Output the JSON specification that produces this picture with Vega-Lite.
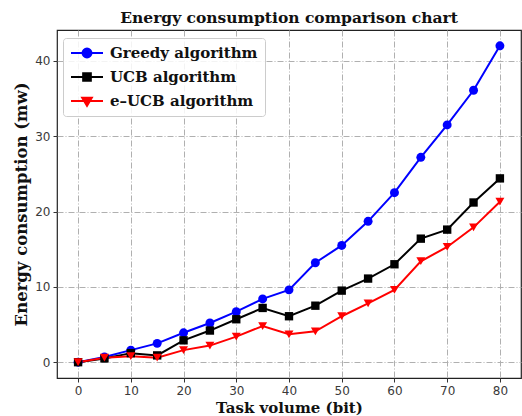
{
  "$schema": "https://vega.github.io/schema/vega-lite/v6.json",
  "width": 464,
  "height": 348,
  "autosize": {"type": "none"},
  "padding": {"left": 57, "top": 30, "right": 1, "bottom": 38},
  "background": "white",
  "config": {
    "view": {"stroke": "#222", "strokeWidth": 1.2},
    "axis": {
      "domain": false,
      "grid": true,
      "gridColor": "#b0b0b0",
      "gridDash": [6, 2, 1, 2],
      "gridWidth": 1,
      "labelFont": "DejaVu Sans",
      "labelFontSize": 12,
      "labelColor": "#3a3a3a",
      "tickColor": "#333",
      "tickSize": 4,
      "labelPadding": 3,
      "titleFont": "DejaVu Serif",
      "titleFontWeight": "bold",
      "titleFontSize": 15,
      "titleColor": "#111"
    }
  },
  "title": {
    "text": "Energy consumption comparison chart",
    "font": "DejaVu Serif",
    "fontWeight": "bold",
    "fontSize": 15.5,
    "color": "#111",
    "anchor": "middle",
    "offset": 4
  },
  "data": {
    "values": [
      {"x": 0, "y": 0, "series": "Greedy algorithm"},
      {"x": 5, "y": 0.7, "series": "Greedy algorithm"},
      {"x": 10, "y": 1.6, "series": "Greedy algorithm"},
      {"x": 15, "y": 2.5, "series": "Greedy algorithm"},
      {"x": 20, "y": 3.9, "series": "Greedy algorithm"},
      {"x": 25, "y": 5.2, "series": "Greedy algorithm"},
      {"x": 30, "y": 6.7, "series": "Greedy algorithm"},
      {"x": 35, "y": 8.4, "series": "Greedy algorithm"},
      {"x": 40, "y": 9.6, "series": "Greedy algorithm"},
      {"x": 45, "y": 13.2, "series": "Greedy algorithm"},
      {"x": 50, "y": 15.5, "series": "Greedy algorithm"},
      {"x": 55, "y": 18.7, "series": "Greedy algorithm"},
      {"x": 60, "y": 22.5, "series": "Greedy algorithm"},
      {"x": 65, "y": 27.2, "series": "Greedy algorithm"},
      {"x": 70, "y": 31.5, "series": "Greedy algorithm"},
      {"x": 75, "y": 36.1, "series": "Greedy algorithm"},
      {"x": 80, "y": 42.0, "series": "Greedy algorithm"},
      {"x": 0, "y": 0, "series": "UCB algorithm"},
      {"x": 5, "y": 0.5, "series": "UCB algorithm"},
      {"x": 10, "y": 1.2, "series": "UCB algorithm"},
      {"x": 15, "y": 0.9, "series": "UCB algorithm"},
      {"x": 20, "y": 2.9, "series": "UCB algorithm"},
      {"x": 25, "y": 4.2, "series": "UCB algorithm"},
      {"x": 30, "y": 5.7, "series": "UCB algorithm"},
      {"x": 35, "y": 7.2, "series": "UCB algorithm"},
      {"x": 40, "y": 6.1, "series": "UCB algorithm"},
      {"x": 45, "y": 7.5, "series": "UCB algorithm"},
      {"x": 50, "y": 9.5, "series": "UCB algorithm"},
      {"x": 55, "y": 11.1, "series": "UCB algorithm"},
      {"x": 60, "y": 13.0, "series": "UCB algorithm"},
      {"x": 65, "y": 16.4, "series": "UCB algorithm"},
      {"x": 70, "y": 17.6, "series": "UCB algorithm"},
      {"x": 75, "y": 21.2, "series": "UCB algorithm"},
      {"x": 80, "y": 24.4, "series": "UCB algorithm"},
      {"x": 0, "y": 0, "series": "e–UCB algorithm"},
      {"x": 5, "y": 0.6, "series": "e–UCB algorithm"},
      {"x": 10, "y": 0.8, "series": "e–UCB algorithm"},
      {"x": 15, "y": 0.6, "series": "e–UCB algorithm"},
      {"x": 20, "y": 1.6, "series": "e–UCB algorithm"},
      {"x": 25, "y": 2.2, "series": "e–UCB algorithm"},
      {"x": 30, "y": 3.4, "series": "e–UCB algorithm"},
      {"x": 35, "y": 4.8, "series": "e–UCB algorithm"},
      {"x": 40, "y": 3.7, "series": "e–UCB algorithm"},
      {"x": 45, "y": 4.1, "series": "e–UCB algorithm"},
      {"x": 50, "y": 6.1, "series": "e–UCB algorithm"},
      {"x": 55, "y": 7.8, "series": "e–UCB algorithm"},
      {"x": 60, "y": 9.6, "series": "e–UCB algorithm"},
      {"x": 65, "y": 13.4, "series": "e–UCB algorithm"},
      {"x": 70, "y": 15.3, "series": "e–UCB algorithm"},
      {"x": 75, "y": 17.9, "series": "e–UCB algorithm"},
      {"x": 80, "y": 21.3, "series": "e–UCB algorithm"}
    ]
  },
  "encoding": {
    "x": {
      "field": "x",
      "type": "quantitative",
      "scale": {"domain": [-4, 84], "nice": false, "zero": false},
      "axis": {"values": [0, 10, 20, 30, 40, 50, 60, 70, 80], "title": "Task volume (bit)", "titlePadding": 4}
    },
    "y": {
      "field": "y",
      "type": "quantitative",
      "scale": {"domain": [-2.1, 44.1], "nice": false, "zero": false},
      "axis": {"values": [0, 10, 20, 30, 40], "title": "Energy consumption (mw)", "titlePadding": 5, "titleFontSize": 16.5}
    },
    "color": {
      "field": "series",
      "type": "nominal",
      "scale": {
        "domain": ["Greedy algorithm", "UCB algorithm", "e–UCB algorithm"],
        "range": ["#0000ff", "#000000", "#ff0000"]
      },
      "legend": {
        "title": null,
        "orient": "none",
        "legendX": 6,
        "legendY": 8,
        "padding": 7,
        "fillColor": "rgba(255,255,255,0.85)",
        "strokeColor": "#cccccc",
        "cornerRadius": 3,
        "symbolSize": 1024,
        "symbolStrokeWidth": 2,
        "clipHeight": 16,
        "rowPadding": 8,
        "labelOffset": 6,
        "labelFont": "DejaVu Serif",
        "labelFontWeight": "bold",
        "labelFontSize": 15,
        "labelColor": "#111",
        "labelLimit": 300,
        "encode": {
          "symbols": {
            "update": {
              "shape": {"signal": "datum.value === 'Greedy algorithm' ? 'M-1,0H1M-0.28,0A0.28,0.28 0 1,0 0.28,0A0.28,0.28 0 1,0 -0.28,0Z' : datum.value === 'UCB algorithm' ? 'M-1,0H1M-0.24,-0.24H0.24V0.24H-0.24Z' : 'M-1,0H1M-0.3,-0.2H0.3L0,0.3Z'"},
              "fill": {"signal": "datum.value === 'Greedy algorithm' ? '#0000ff' : datum.value === 'UCB algorithm' ? '#000000' : '#ff0000'"},
              "stroke": {"signal": "datum.value === 'Greedy algorithm' ? '#0000ff' : datum.value === 'UCB algorithm' ? '#000000' : '#ff0000'"},
              "opacity": {"value": 1},
              "fillOpacity": {"value": 1},
              "strokeWidth": {"value": 2}
            }
          }
        }
      }
    }
  },
  "layer": [
    {
      "mark": {"type": "line", "strokeWidth": 2},
      "encoding": {"detail": {"field": "series"}}
    },
    {
      "transform": [{"filter": "datum.series === 'Greedy algorithm'"}],
      "mark": {"type": "point", "filled": true, "opacity": 1, "size": 80, "shape": "circle"}
    },
    {
      "transform": [{"filter": "datum.series === 'UCB algorithm'"}],
      "mark": {"type": "point", "filled": true, "opacity": 1, "size": 70, "shape": "square"}
    },
    {
      "transform": [{"filter": "datum.series === 'e–UCB algorithm'"}],
      "mark": {"type": "point", "filled": true, "opacity": 1, "size": 80, "shape": "triangle-down"}
    }
  ]
}
